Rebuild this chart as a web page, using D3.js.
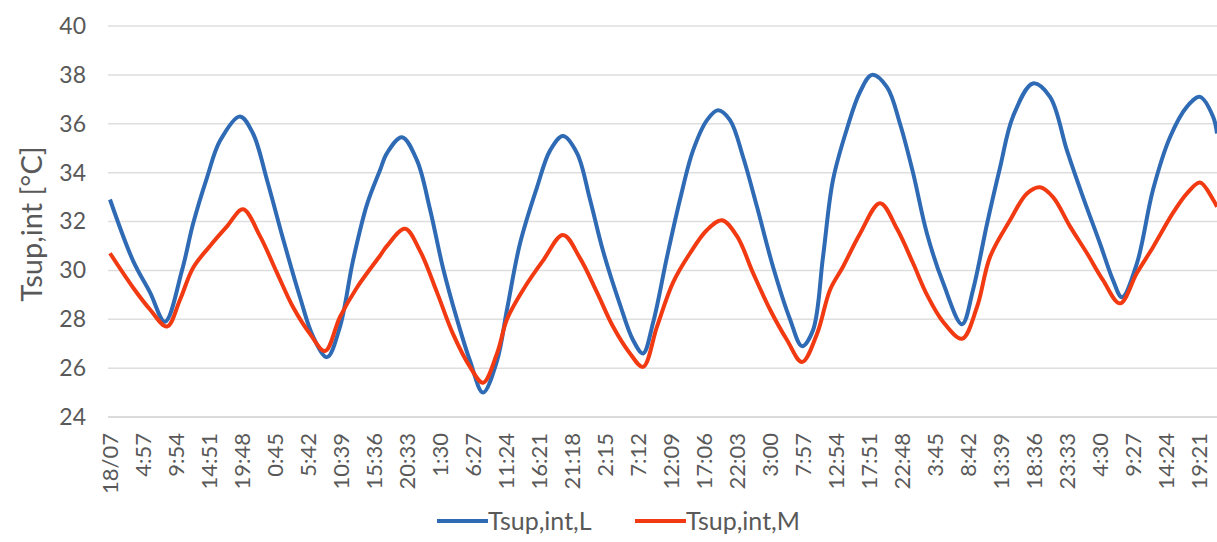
<!DOCTYPE html>
<html>
<head>
<meta charset="utf-8">
<script src="https://cdn.jsdelivr.net/npm/d3@7"></script>
<style>
  html, body { margin: 0; padding: 0; background: #ffffff; }
  svg { display: block; }
  text { font-family: Lato, "Open Sans", sans-serif; fill: #595959; }
</style>
</head>
<body>
<svg id="chart" width="1217" height="542"></svg>
<script>
// ---- data (hours since 18/07 00:00) ----
const timeL = [0, 3.45, 6.0, 8.25, 10.8, 12.45, 14.55, 16.5, 19.5, 21.45, 23.55, 25.95, 28.5, 30.45, 32.55,
  34.5, 36.45, 38.55, 40.5, 41.55, 43.8, 46.05, 48.0, 49.95, 52.05, 54.0, 55.95, 58.05, 59.55, 61.5, 64.05,
  66.0, 67.95, 70.05, 72.0, 73.95, 76.5, 78.45, 79.95, 81.45, 83.55, 85.5, 87.45, 89.55, 91.2, 93.0, 94.95,
  97.05, 99.45, 102.0, 103.8, 105.45, 106.95, 108.45, 110.55, 112.5, 114.3, 116.55, 118.5, 120.45, 122.55,
  124.95, 127.8, 129.45, 131.55, 133.5, 135.45, 138.45, 141.0, 143.55, 145.95, 148.5, 150.45, 151.8, 154.05,
  156.45, 159.0, 161.55, 163.5, 165.45, 166.05];
const valL = [32.9, 30.4, 29.1, 27.9, 30.0, 31.9, 33.8, 35.3, 36.3, 35.6, 33.7, 31.3, 28.9, 27.3, 26.45,
  27.7, 30.4, 32.7, 34.1, 34.8, 35.45, 34.5, 32.5, 30.1, 28.0, 26.3, 25.0, 26.3, 28.4, 31.1, 33.4,
  34.9, 35.5, 34.8, 32.9, 30.8, 28.6, 27.15, 26.6, 27.85, 30.55, 32.9, 34.9, 36.15, 36.55, 36.15, 34.65,
  32.6, 30.15, 28.0, 26.9, 27.55, 30.55, 33.7, 35.8, 37.3, 38.0, 37.5, 36.0, 34.0, 31.5,
  29.5, 27.8, 29.2, 31.9, 34.2, 36.3, 37.65, 37.1, 34.9, 33.0, 31.1, 29.6, 28.9, 30.3,
  33.3, 35.45, 36.7, 37.1, 36.3, 35.6];

const timeM = [0, 3.45, 6.0, 8.55, 10.5, 12.45, 15.0, 17.55, 19.95, 22.5, 25.05, 27.45, 30.0, 32.25,
  34.5, 37.05, 40.5, 41.55, 44.25, 46.5, 49.05, 51.45, 54.0, 55.95, 58.05, 59.55, 61.95, 64.95, 67.95,
  70.5, 73.05, 75.45, 78.0, 79.95, 82.05, 84.45, 87.0, 89.55, 91.8, 94.05, 96.45, 99.0, 101.55, 103.8,
  106.05, 108.0, 109.95, 112.5, 115.5, 118.05, 120.45, 122.55, 124.95, 127.8, 130.05, 132.0, 135.0,
  137.55, 139.5, 141.45, 144.0, 146.55, 148.95, 151.5, 154.05, 156.45, 159.45, 161.55, 163.5, 165.45, 166.05];
const valM = [30.7, 29.3, 28.4, 27.7, 28.8, 30.1, 31.0, 31.8, 32.5, 31.4, 29.9, 28.5, 27.4, 26.7,
  28.1, 29.3, 30.6, 31.0, 31.7, 30.8, 29.1, 27.4, 26.05, 25.4, 26.6, 28.0, 29.2, 30.4, 31.45,
  30.5, 29.1, 27.7, 26.6, 26.05, 27.7, 29.5, 30.7, 31.65, 32.05, 31.4, 29.9, 28.4, 27.15, 26.25,
  27.4, 29.2, 30.15, 31.5, 32.75, 31.7, 30.3, 29.0, 27.9, 27.2, 28.5, 30.55, 32.05,
  33.15, 33.4, 33.0, 31.8, 30.7, 29.6, 28.65, 29.9, 30.95, 32.35, 33.15, 33.6, 32.9, 32.6];

const tickLabels = ["18/07", "4:57", "9:54", "14:51", "19:48", "0:45", "5:42", "10:39", "15:36", "20:33",
  "1:30", "6:27", "11:24", "16:21", "21:18", "2:15", "7:12", "12:09", "17:06", "22:03", "3:00", "7:57",
  "12:54", "17:51", "22:48", "3:45", "8:42", "13:39", "18:36", "23:33", "4:30", "9:27", "14:24", "19:21"];
const tickStepHours = 4.95;           // 4 h 57 min between category labels
const yTicks = [24, 26, 28, 30, 32, 34, 36, 38, 40];
const seriesNames = ["Tsup,int,L", "Tsup,int,M"];
const seriesColors = ["#2f6ab5", "#f23a12"];
const yTitle = "Tsup,int [°C]";

// ---- layout ----
const svg = d3.select("#chart");
const x = d3.scaleLinear().domain([0, 166.05]).range([110, 1217]);
const y = d3.scaleLinear().domain([24, 40]).range([417, 26]);

// gridlines
svg.append("g").selectAll("line").data(yTicks).join("line")
  .attr("x1", 108).attr("x2", 1217)
  .attr("y1", d => y(d)).attr("y2", d => y(d))
  .attr("stroke", d => d === 24 ? "#cfcfcf" : "#dedede")
  .attr("stroke-width", 1.5);

// y axis labels
const yAxis = d3.axisLeft(y).tickValues(yTicks).tickSize(0).tickPadding(0);
const gy = svg.append("g").attr("transform", "translate(86,0)").call(yAxis);
gy.select(".domain").remove();
gy.selectAll("text").style("font-size", "23px").style("font-family", "Lato, sans-serif").attr("fill", "#595959");

// x axis labels
const xAxis = d3.axisBottom(x)
  .tickValues(tickLabels.map((_, i) => i * tickStepHours))
  .tickFormat((d, i) => tickLabels[i])
  .tickSize(0);
const gx = svg.append("g").attr("transform", "translate(0,433)").call(xAxis);
gx.select(".domain").remove();
gx.selectAll("text")
  .style("font-size", "22px").style("font-family", "Lato, sans-serif").attr("fill", "#595959")
  .attr("transform", "rotate(-90)")
  .attr("text-anchor", "end")
  .attr("x", 0).attr("y", 0).attr("dy", "0.35em");

// y title
svg.append("text")
  .attr("transform", "translate(42,224) rotate(-90)")
  .attr("text-anchor", "middle")
  .style("font-size", "29px")
  .text(yTitle);

// lines
const line = d3.line().x(d => x(d[0])).y(d => y(d[1])).curve(d3.curveCatmullRom.alpha(0.5));
const dataL = timeL.map((t, i) => [t, valL[i]]);
const dataM = timeM.map((t, i) => [t, valM[i]]);
svg.append("path").datum(dataL).attr("d", line)
  .attr("fill", "none").attr("stroke", seriesColors[0]).attr("stroke-width", 4).attr("stroke-linejoin", "round");
svg.append("path").datum(dataM).attr("d", line)
  .attr("fill", "none").attr("stroke", seriesColors[1]).attr("stroke-width", 4).attr("stroke-linejoin", "round");

// legend
const legendX = [437, 635];
const leg = svg.append("g");
seriesNames.forEach((name, i) => {
  leg.append("line").attr("x1", legendX[i]).attr("x2", legendX[i] + 51)
    .attr("y1", 521).attr("y2", 521)
    .attr("stroke", seriesColors[i]).attr("stroke-width", 4);
  leg.append("text").attr("x", legendX[i] + 51).attr("y", 521).attr("dy", "0.35em")
    .style("font-size", "25px").text(name);
});
</script>
</body>
</html>
